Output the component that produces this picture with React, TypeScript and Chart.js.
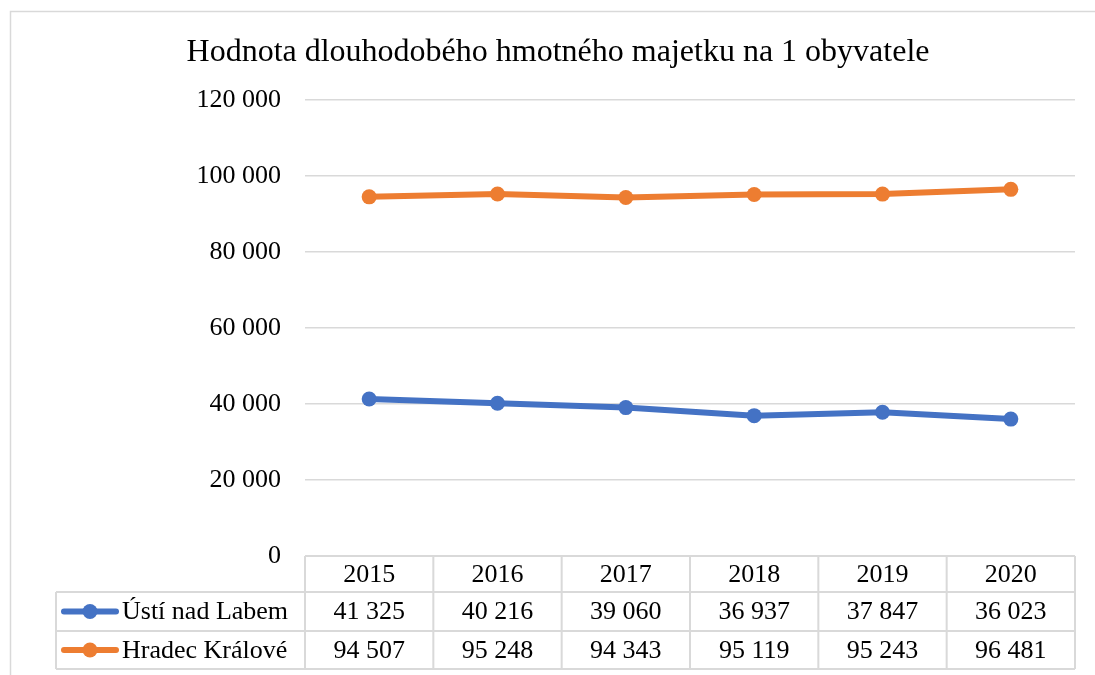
import React, { useEffect, useRef } from "react";
import { Chart, registerables } from "chart.js";

Chart.register(...registerables);

const title = "Hodnota dlouhodobého hmotného majetku na 1 obyvatele";
const years = ["2015", "2016", "2017", "2018", "2019", "2020"];
const seriesNames = ["Ústí nad Labem", "Hradec Králové"];
const ustiValues = [41325, 40216, 39060, 36937, 37847, 36023];
const hradecValues = [94507, 95248, 94343, 95119, 95243, 96481];
const seriesColors = ["#4472C4", "#ED7D31"];
const yTicks = [0, 20000, 40000, 60000, 80000, 100000, 120000];

const FONT = '"Liberation Serif", "Times New Roman", serif';
const GRID = "#D9D9D9";

const fmt = (n: number) => n.toString().replace(/\B(?=(\d{3})+(?!\d))/g, " ");

const tablePlugin = {
  id: "excelTable",
  afterDraw(chart: any) {
    const ctx = chart.ctx;
    const area = chart.chartArea;
    const x = chart.scales.x;
    const left = area.left;
    const right = area.right;
    const colW = (right - left) / years.length;
    const top = area.bottom;
    const r1 = 592;
    const r2 = 631;
    const r3 = 669;
    const legendLeft = 56;
    ctx.save();
    // outer box
    ctx.strokeStyle = GRID;
    ctx.lineWidth = 1.5;
    ctx.beginPath();
    ctx.moveTo(10.5, 700);
    ctx.lineTo(10.5, 11.5);
    ctx.lineTo(1100, 11.5);
    ctx.stroke();

    // title
    ctx.fillStyle = "#000";
    ctx.font = `32px ${FONT}`;
    ctx.textAlign = "center";
    ctx.textBaseline = "alphabetic";
    ctx.fillText(title, 558, 61);

    // table grid
    ctx.strokeStyle = GRID;
    ctx.lineWidth = 2;
    ctx.beginPath();
    ctx.moveTo(left, top);
    ctx.lineTo(right, top);
    ctx.moveTo(legendLeft, r1);
    ctx.lineTo(right, r1);
    ctx.moveTo(legendLeft, r2);
    ctx.lineTo(right, r2);
    ctx.moveTo(legendLeft, r3);
    ctx.lineTo(right, r3);
    ctx.moveTo(legendLeft, r1);
    ctx.lineTo(legendLeft, r3);
    for (let i = 0; i <= years.length; i++) {
      const cx = left + i * colW;
      ctx.moveTo(cx, top);
      ctx.lineTo(cx, r3);
    }
    ctx.stroke();

    // texts
    ctx.fillStyle = "#000";
    ctx.font = `26px ${FONT}`;
    ctx.textAlign = "center";
    ctx.textBaseline = "middle";
    const rows = [ustiValues, hradecValues];
    years.forEach((yr, i) => {
      const cx = x.getPixelForValue(i);
      ctx.fillText(yr, cx, (top + r1) / 2 + 1);
      ctx.fillText(fmt(rows[0][i]), cx, (r1 + r2) / 2 + 1);
      ctx.fillText(fmt(rows[1][i]), cx, (r2 + r3) / 2 + 1);
    });

    // legend keys
    const rowMids = [(r1 + r2) / 2, (r2 + r3) / 2];
    seriesNames.forEach((name, i) => {
      const y = rowMids[i];
      ctx.strokeStyle = seriesColors[i];
      ctx.lineWidth = 6;
      ctx.lineCap = "round";
      ctx.beginPath();
      ctx.moveTo(64, y);
      ctx.lineTo(116, y);
      ctx.stroke();
      ctx.fillStyle = seriesColors[i];
      ctx.beginPath();
      ctx.arc(90, y, 7.5, 0, Math.PI * 2);
      ctx.fill();
      ctx.fillStyle = "#000";
      ctx.textAlign = "left";
      ctx.fillText(name, 122, y + 1);
    });
    ctx.restore();
  },
};

export default function App() {
  const ref = useRef<HTMLCanvasElement>(null);
  useEffect(() => {
    if (!ref.current) return;
    const chart = new Chart(ref.current, {
      type: "line",
      data: {
        labels: years,
        datasets: [
          {
            label: seriesNames[0],
            data: ustiValues,
            borderColor: seriesColors[0],
            backgroundColor: seriesColors[0],
            borderWidth: 6,
            pointRadius: 7.5,
            pointBorderWidth: 0,
            borderCapStyle: "round",
          },
          {
            label: seriesNames[1],
            data: hradecValues,
            borderColor: seriesColors[1],
            backgroundColor: seriesColors[1],
            borderWidth: 6,
            pointRadius: 7.5,
            pointBorderWidth: 0,
            borderCapStyle: "round",
          },
        ],
      },
      options: {
        animation: false,
        responsive: false,
        maintainAspectRatio: false,
        layout: { padding: { top: 100, left: 0, right: 20, bottom: 119 } },
        plugins: {
          legend: { display: false },
          title: { display: false },
          tooltip: { enabled: false },
        },
        scales: {
          x: {
            type: "category",
            display: false,
            offset: true,
          },
          y: {
            min: 0,
            max: 120000,
            afterFit: (s: any) => {
              s.width = 305;
            },
            afterBuildTicks: (s: any) => {
              s.ticks = yTicks.map((v) => ({ value: v }));
            },
            grid: { color: GRID, lineWidth: 1.5, drawTicks: false },
            border: { display: false },
            ticks: {
              padding: 24,
              color: "#000",
              font: { family: FONT, size: 26 },
              callback: (v: any) => fmt(Number(v)),
            },
          },
        },
      },
      plugins: [tablePlugin],
    });
    return () => chart.destroy();
  }, []);
  return (
    <div style={{ position: "absolute", left: 0, top: 0, width: 1095, height: 675, background: "#fff" }}>
      <canvas ref={ref} width={1095} height={675} style={{ width: 1095, height: 675 }} />
    </div>
  );
}
